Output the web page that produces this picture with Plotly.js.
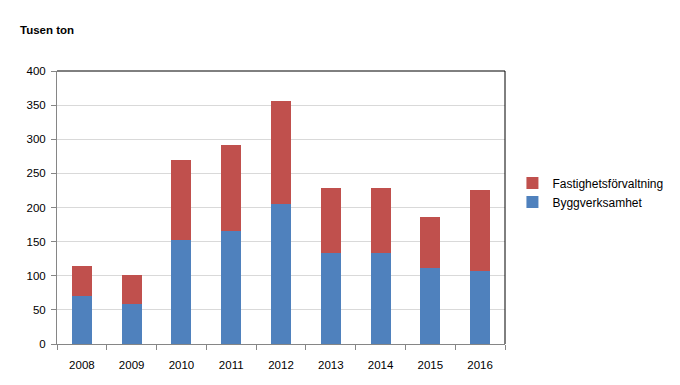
<!DOCTYPE html>
<html>
<head>
<meta charset="utf-8">
<script src="https://cdn.plot.ly/plotly-3.0.1.min.js"></script>
<style>html,body{margin:0;padding:0;background:#fff;}#chart{width:680px;height:385px;}</style>
</head>
<body>
<div id="chart"></div>
<script>
const years = ['2008','2009','2010','2011','2012','2013','2014','2015','2016'];
const byggverksamhet = [71, 59, 153, 165, 205, 133, 133, 112, 107];
const fastighetsforvaltning = [43, 42, 116, 126, 151, 95, 95, 74, 118];
const yTicks = [0, 50, 100, 150, 200, 250, 300, 350, 400];

const fam = 'Liberation Sans, Arial, sans-serif';
const font = {family: fam, size: 11.5, color: '#000'};

const traces = [
  {type: 'bar', name: 'Byggverksamhet', x: years, y: byggverksamhet, legendgroup: 'b',
   marker: {color: '#4f81bd'}, hoverinfo: 'x+y'},
  {type: 'bar', name: 'Fastighetsförvaltning', x: years, y: fastighetsforvaltning, legendgroup: 'f',
   marker: {color: '#c0504d'}, hoverinfo: 'x+y'}
];

const layout = {
  width: 680, height: 385,
  margin: {l: 57, r: 175, t: 71, b: 41, pad: 0},
  paper_bgcolor: '#fff', plot_bgcolor: '#fff',
  font: font,
  barmode: 'stack',
  bargap: 0.6,
  showlegend: true,
  legend: {x: 1.0166, xanchor: 'left', y: 0.555, yanchor: 'middle',
           traceorder: 'reversed', font: {family: fam, size: 12, color: '#000'}, itemwidth: 30, tracegroupgap: 5},
  title: {text: '<b>Tusen ton</b>', x: 20/680, xref: 'container', xanchor: 'left',
          y: 1 - 30/385, yref: 'container', yanchor: 'middle', font: {family: fam, size: 11.5, color: '#000'}},
  xaxis: {type: 'category', showgrid: false, showline: true, linecolor: '#868686', linewidth: 1,
          ticks: 'outside', tickson: 'boundaries', ticklen: 5, tickcolor: '#868686', tickfont: font,
          ticklabelstandoff: 10, zeroline: false},
  yaxis: {range: [0, 400], tickvals: yTicks, ticktext: yTicks.map(String), showgrid: true, gridcolor: '#d9d9d9',
          showline: true, linecolor: '#868686', linewidth: 1, ticks: 'outside', ticklen: 5, tickcolor: '#868686',
          tickfont: font, ticklabelstandoff: 3, zeroline: false},
  shapes: [
    {type: 'line', xref: 'paper', yref: 'paper', x0: 0, x1: 1, y0: 1, y1: 1, line: {color: '#000', width: 1}, layer: 'above'},
    {type: 'line', xref: 'paper', yref: 'paper', x0: 1, x1: 1, y0: 0, y1: 1, line: {color: '#000', width: 1}, layer: 'above'}
  ]
};

Plotly.newPlot('chart', traces, layout, {displayModeBar: false, staticPlot: true});
</script>
</body>
</html>
